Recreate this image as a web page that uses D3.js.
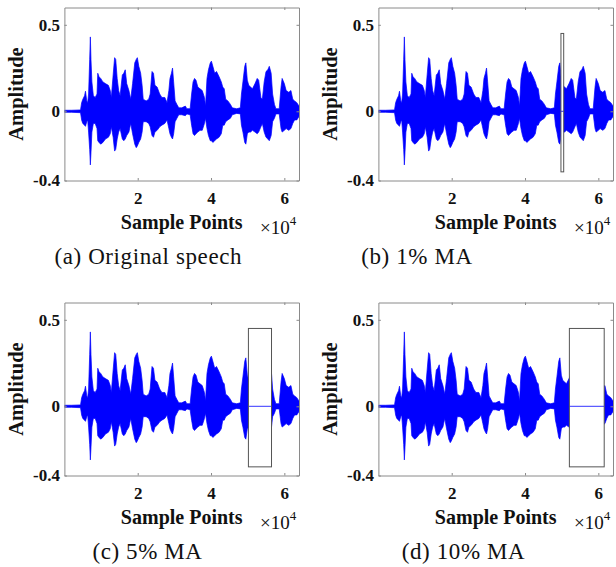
<!DOCTYPE html>
<html>
<head>
<meta charset="utf-8">
<script src="https://cdn.jsdelivr.net/npm/d3@7/dist/d3.min.js"></script>
<style>
body{margin:0;background:#fff;}
</style>
</head>
<body>
<div id="chart"></div>
<script>
// envelope of the speech signal: sample index, upper and lower amplitude
var sampleIdx = [0,2000,4400,4700,5000,5500,5750,6100,6350,6600,6900,7080,7250,7500,7900,8400,8900,9100,9450,9900,
    10500,11200,12000,12500,12800,13300,13700,14000,14400,14800,15200,15800,16200,16600,17000,17600,18100,18600,19200,19600,
    19900,20300,20800,21200,21500,22300,23000,23400,23900,24300,24700,25300,26000,26600,27400,28000,28500,28800,29200,29500,
    29800,30200,30700,31200,32000,33000,33400,34300,34700,35100,35500,35900,36400,37000,37600,38200,38500,38900,39300,39800,
    40100,40500,41000,41500,42200,42800,43200,43600,44000,44600,45300,45800,47000,48000,48300,48700,49200,49500,49900,50300,
    50800,51300,52000,52600,53000,53600,54000,54500,55000,55500,55900,56400,56800,57300,57700,58600,59100,59400,60000,60500,
    61200,61800,62300,62800,63400,64000];
var envUpper = [0.006,0.006,0.008,0.05,0.068,0.09,0.116,0.06,0.05,0.10,0.30,0.43,0.30,0.17,0.09,0.08,0.10,0.22,0.20,0.19,
    0.17,0.16,0.15,0.12,0.08,0.21,0.31,0.30,0.19,0.12,0.09,0.21,0.22,0.24,0.16,0.12,0.07,0.16,0.28,0.30,
    0.31,0.26,0.22,0.15,0.07,0.06,0.07,0.10,0.23,0.22,0.15,0.14,0.10,0.08,0.08,0.05,0.12,0.19,0.22,0.25,
    0.17,0.06,0.04,0.02,0.02,0.03,0.015,0.015,0.10,0.17,0.19,0.18,0.14,0.13,0.12,0.08,0.03,0.19,0.24,0.28,
    0.29,0.26,0.22,0.23,0.20,0.17,0.14,0.13,0.07,0.06,0.04,0.02,0.015,0.02,0.10,0.17,0.26,0.28,0.18,0.15,
    0.14,0.13,0.16,0.19,0.18,0.08,0.07,0.17,0.23,0.24,0.26,0.22,0.10,0.04,0.015,0.015,0.14,0.19,0.16,0.12,
    0.11,0.12,0.07,0.06,0.05,0.03];
var envLower = [-0.006,-0.006,-0.008,-0.05,-0.07,-0.08,-0.087,-0.06,-0.05,-0.12,-0.22,-0.31,-0.24,-0.12,-0.07,-0.07,-0.10,-0.17,-0.18,-0.19,
    -0.18,-0.16,-0.15,-0.13,-0.09,-0.15,-0.23,-0.22,-0.16,-0.12,-0.10,-0.16,-0.17,-0.16,-0.14,-0.12,-0.07,-0.13,-0.19,-0.21,
    -0.20,-0.18,-0.16,-0.12,-0.06,-0.06,-0.07,-0.09,-0.14,-0.15,-0.12,-0.11,-0.09,-0.08,-0.07,-0.05,-0.10,-0.13,-0.15,-0.16,
    -0.13,-0.06,-0.04,-0.02,-0.02,-0.025,-0.015,-0.02,-0.08,-0.13,-0.14,-0.13,-0.12,-0.11,-0.11,-0.07,-0.04,-0.10,-0.14,-0.17,
    -0.17,-0.18,-0.17,-0.16,-0.15,-0.13,-0.08,-0.08,-0.06,-0.05,-0.04,-0.02,-0.012,-0.015,-0.08,-0.12,-0.18,-0.19,-0.13,-0.12,
    -0.12,-0.11,-0.12,-0.13,-0.12,-0.09,-0.07,-0.12,-0.15,-0.16,-0.17,-0.14,-0.06,-0.04,-0.015,-0.015,-0.10,-0.12,-0.11,-0.10,
    -0.11,-0.10,-0.07,-0.05,-0.05,-0.03];

var captions = ["(a) Original speech", "(b) 1% MA", "(c) 5% MA", "(d) 10% MA"];
// samples that are zeroed out in each panel (null = none)
var maskStart = [null, 49800, 50200, 52100];
var maskEnd = [null, 50550, 56500, 61600];
var boxAmp = [-0.35, 0.45];

var xTicks = [20000, 40000, 60000];
var xTickLabels = ["2", "4", "6"];
var yTicks = [-0.4, 0, 0.5];
var yTickLabels = ["-0.4", "0", "0.5"];
var xMax = 64000;
var yDomain = [-0.4, 0.6];

var serif = "'Liberation Serif'";

function boldText(sel, size){
    sel.style("font-family", serif)
       .style("font-weight", "bold")
       .attr("font-size", size)
       .attr("fill", "#111");
}

function init(){
    var w = 616, h = 567;
    var pw = 234.6, ph = 173; //plot box size
    var lefts = [64.4, 378.4], tops = [7.5, 302.5];
    var capX = [148.3, 417, 147.5, 463.5], capY = [264, 558.5]; //caption centres
    var axisCol = "#8a8a8a";

    var svg = d3.select("#chart")
                .append("svg")
                .attr("width", w)
                .attr("height", h);

    var env = sampleIdx.map(function(s, i){
        return {s: s, hi: envUpper[i], lo: envLower[i]};
    });

    captions.forEach(function(cap, k){
        var col = k % 2, row = Math.floor(k / 2);
        var x0 = lefts[col], y0 = tops[row];

        var x = d3.scaleLinear().domain([0, xMax]).range([x0, x0 + pw]);
        var y = d3.scaleLinear().domain(yDomain).range([y0 + ph, y0]);

        var g = svg.append("g");

        // clip the waveform to the plot, leaving out the masked part
        var clipId = "clip" + k;
        var clip = svg.append("clipPath").attr("id", clipId);
        if(maskStart[k] == null){
            clip.append("rect").attr("x", x0).attr("y", y0).attr("width", pw).attr("height", ph);
        }
        else{
            clip.append("rect").attr("x", x0).attr("y", y0)
                .attr("width", x(maskStart[k]) - x0).attr("height", ph);
            clip.append("rect").attr("x", x(maskEnd[k])).attr("y", y0)
                .attr("width", x0 + pw - x(maskEnd[k])).attr("height", ph);
        }

        var area = d3.area()
                    .x(function(d){ return x(d.s); })
                    .y0(function(d){ return y(d.lo); })
                    .y1(function(d){ return y(d.hi); });

        g.append("path")
            .datum(env)
            .attr("d", area)
            .attr("fill", "#0000ff")
            .attr("stroke", "#0000ff")
            .attr("stroke-width", 0.7)
            .attr("stroke-linejoin", "round")
            .attr("clip-path", "url(#" + clipId + ")");

        if(maskStart[k] != null){
            // zeroed samples are just a flat line
            g.append("line")
                .attr("x1", x(maskStart[k])).attr("x2", x(maskEnd[k]))
                .attr("y1", y(0)).attr("y2", y(0))
                .attr("stroke", "#0000ff")
                .attr("stroke-width", 0.8);
            g.append("rect")
                .attr("x", x(maskStart[k]))
                .attr("y", y(boxAmp[1]))
                .attr("width", x(maskEnd[k]) - x(maskStart[k]))
                .attr("height", y(boxAmp[0]) - y(boxAmp[1]))
                .attr("fill", "none")
                .attr("stroke", "#555")
                .attr("stroke-width", 1);
        }

        // axes on all four sides, ticks pointing inward
        var xAxis = d3.axisBottom(x).tickValues(xTicks)
                    .tickFormat(function(d, i){ return xTickLabels[i]; })
                    .tickSizeInner(-2.5).tickSizeOuter(0).tickPadding(11);
        var yAxis = d3.axisLeft(y).tickValues(yTicks)
                    .tickFormat(function(d, i){ return yTickLabels[i]; })
                    .tickSizeInner(-2.5).tickSizeOuter(0).tickPadding(4.5);
        var xTop = d3.axisTop(x).tickValues(xTicks).tickFormat("")
                    .tickSizeInner(-2.5).tickSizeOuter(0);
        var yRight = d3.axisRight(y).tickValues(yTicks).tickFormat("")
                    .tickSizeInner(-2.5).tickSizeOuter(0);

        var axes = [
            g.append("g").attr("transform", "translate(0," + (y0 + ph) + ")").call(xAxis),
            g.append("g").attr("transform", "translate(" + x0 + ",0)").call(yAxis),
            g.append("g").attr("transform", "translate(0," + y0 + ")").call(xTop),
            g.append("g").attr("transform", "translate(" + (x0 + pw) + ",0)").call(yRight)
        ];
        axes.forEach(function(a){
            a.selectAll("path, line").attr("stroke", axisCol);
            a.selectAll("text").call(boldText, 17);
        });

        // axis titles
        g.append("text")
            .attr("x", (x0 + x0 + pw) / 2)
            .attr("y", y0 + ph + 48.5)
            .attr("text-anchor", "middle")
            .call(boldText, 20)
            .text("Sample Points");

        g.append("text")
            .attr("transform", "translate(" + (x0 - 41) + "," + (y0 + ph / 2) + ") rotate(-90)")
            .attr("text-anchor", "middle")
            .call(boldText, 20.5)
            .text("Amplitude");

        // exponent of the x axis
        var ex = g.append("text")
            .attr("x", x0 + pw - 39)
            .attr("y", y0 + ph + 53.5)
            .style("font-family", serif)
            .attr("font-size", 19)
            .attr("fill", "#111");
        ex.append("tspan").text("\u00d710");
        ex.append("tspan").attr("dy", -9).attr("font-size", 13).text("4");

        // sub-figure caption
        svg.append("text")
            .attr("x", capX[k])
            .attr("y", capY[row])
            .attr("text-anchor", "middle")
            .style("font-family", serif)
            .attr("font-size", 23)
            .attr("letter-spacing", 0.6)
            .attr("fill", "#111")
            .text(cap);
    });
}
window.onload = init;
</script>
</body>
</html>
